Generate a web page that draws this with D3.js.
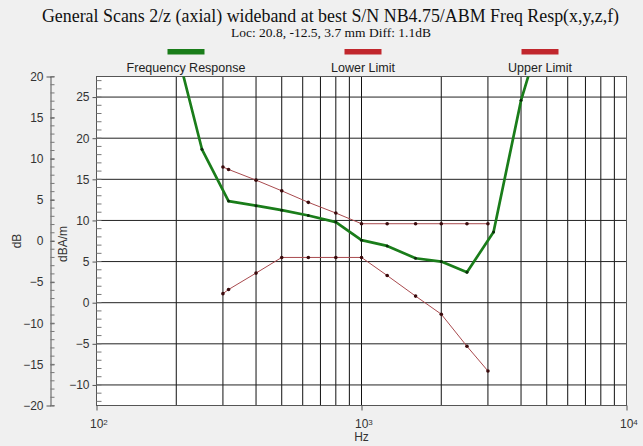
<!DOCTYPE html>
<html>
<head>
<meta charset="utf-8">
<script src="https://cdn.jsdelivr.net/npm/d3@7"></script>
<style>
  html, body { margin: 0; padding: 0; background: #f0f0f0; }
  svg { display: block; }
</style>
</head>
<body>
<svg id="chart" width="643" height="446"></svg>
<script>
// ---- data ----
const titleText = "General Scans 2/z (axial) wideband at best S/N NB4.75/ABM Freq Resp(x,y,z,f)";
const subtitleText = "Loc: 20.8, -12.5, 3.7 mm Diff: 1.1dB";
const seriesNames = ["Frequency Response", "Lower Limit", "Upper Limit"];

const respFreq = [200, 250, 315, 400, 500, 630, 800, 1000, 1250, 1600, 2000, 2500, 3150, 4000, 5000];
const respValues = [31, 18.65, 12.35, 11.8, 11.25, 10.6, 9.8, 7.6, 6.9, 5.4, 5.0, 3.7, 8.6, 24.6, 35];

const limitFreq = [300, 315, 400, 500, 630, 800, 1000, 1250, 1600, 2000, 2500, 3000];
const lowerValues = [1.1, 1.6, 3.6, 5.5, 5.5, 5.5, 5.5, 3.3, 0.8, -1.4, -5.3, -8.3];
const upperValues = [16.5, 16.2, 14.9, 13.6, 12.2, 10.9, 9.6, 9.6, 9.6, 9.6, 9.6, 9.6];

const xTickValues = [100, 1000, 10000];
const dbTicks = [-20, -15, -10, -5, 0, 5, 10, 15, 20];
const dbaTicks = [-10, -5, 0, 5, 10, 15, 20, 25];

// ---- layout ----
const svg = d3.select("#chart");
const L = 96.5, R = 626.5, T = 76.5, B = 405.5;

const x = d3.scaleLog().domain([100, 10000]).range([L, R]);
const yIn = d3.scaleLinear().domain([-12.5, 27.5]).range([B, T]);
const yDb = d3.scaleLinear().domain([-20, 20]).range([B, T]);

const green = "#1a7d1a";
const red = "#c1272d";
const limitLine = "#a84a4e";

// title
svg.append("text").attr("x", 330.5).attr("y", 22)
  .attr("text-anchor", "middle")
  .style("font-family", "'Liberation Serif', 'Times New Roman', serif")
  .style("font-size", "17.9px").attr("fill", "#111").text(titleText);
svg.append("text").attr("x", 331).attr("y", 36.5)
  .attr("text-anchor", "middle")
  .style("font-family", "'Liberation Serif', 'Times New Roman', serif")
  .style("font-size", "13.5px").attr("fill", "#111").text(subtitleText);

// legend
const legendColors = [green, red, red];
const legend = svg.append("g");
seriesNames.forEach((name, i) => {
  const cx = 186 + i * 177;
  legend.append("rect").attr("x", cx - 18.5).attr("y", 49).attr("width", 37).attr("height", 5.5)
    .attr("fill", legendColors[i]);
  legend.append("text").attr("x", cx).attr("y", 72).attr("text-anchor", "middle")
    .style("font-family", "'Liberation Sans', Arial, sans-serif").style("font-size", "12.5px")
    .attr("fill", "#222").text(name);
});

// plot area
svg.append("rect").attr("x", L).attr("y", T).attr("width", R - L).attr("height", B - T)
  .attr("fill", "#fff");

// gridlines
const grid = svg.append("g");
grid.selectAll("line.v").data(x.ticks()).join("line")
  .attr("x1", d => x(d)).attr("x2", d => x(d)).attr("y1", T).attr("y2", B)
  .attr("stroke", "#111").attr("stroke-width", 1);
grid.selectAll("line.h").data(dbaTicks).join("line")
  .attr("x1", L).attr("x2", R).attr("y1", d => yIn(d)).attr("y2", d => yIn(d))
  .attr("stroke", "#222").attr("stroke-width", 1);

// border
svg.append("rect").attr("x", L).attr("y", T).attr("width", R - L).attr("height", B - T)
  .attr("fill", "none").attr("stroke", "#555").attr("stroke-width", 1);

// clip
svg.append("clipPath").attr("id", "clip").append("rect")
  .attr("x", L).attr("y", T).attr("width", R - L).attr("height", B - T);
const plot = svg.append("g").attr("clip-path", "url(#clip)");

const line = d3.line().x(d => x(d[0])).y(d => yIn(d[1]));
const upper = limitFreq.map((f, i) => [f, upperValues[i]]);
const lower = limitFreq.map((f, i) => [f, lowerValues[i]]);
const resp = respFreq.map((f, i) => [f, respValues[i]]);

[upper, lower].forEach(data => {
  plot.append("path").datum(data).attr("d", line).attr("fill", "none")
    .attr("stroke", limitLine).attr("stroke-width", 1);
  plot.selectAll(null).data(data).join("circle")
    .attr("cx", d => x(d[0])).attr("cy", d => yIn(d[1])).attr("r", 1.8)
    .attr("fill", "#3a0a0c");
});
plot.append("path").datum(resp).attr("d", line).attr("fill", "none")
  .attr("stroke", green).attr("stroke-width", 2.7).attr("stroke-linejoin", "round");
plot.selectAll(null).data(resp).join("circle")
  .attr("cx", d => x(d[0])).attr("cy", d => yIn(d[1])).attr("r", 1.5)
  .attr("fill", "#0a2a0a");

const tickFont = g => g.selectAll("text")
  .style("font-family", "'Liberation Sans', Arial, sans-serif").style("font-size", "12px")
  .attr("fill", "#333");

// inner axis (dBA/m)
const inAx = svg.append("g").attr("transform", `translate(${L},0)`);
inAx.call(d3.axisLeft(yIn).tickValues(dbaTicks).tickSize(4).tickPadding(3))
  .call(g => g.select(".domain").remove())
  .call(g => g.selectAll("line").attr("stroke", "#555"))
  .call(tickFont);
inAx.selectAll("line.minor").data(d3.range(-12, 28, 1)).join("line")
  .attr("x1", 0).attr("x2", 5).attr("y1", d => yIn(d)).attr("y2", d => yIn(d))
  .attr("stroke", "#777");

// outer axis (dB)
const dbAx = svg.append("g").attr("transform", "translate(50.5,0)");
dbAx.call(d3.axisLeft(yDb).tickValues(dbTicks).tickSize(4).tickPadding(3))
  .call(g => g.select(".domain").attr("stroke", "#555"))
  .call(g => g.selectAll(".tick line").attr("stroke", "#555").attr("x2", 4))
  .call(tickFont);
dbAx.selectAll("line.minor").data(d3.range(-20, 21, 1)).join("line")
  .attr("x1", 0).attr("x2", 4).attr("y1", d => yDb(d)).attr("y2", d => yDb(d))
  .attr("stroke", "#777");

// x axis
const xAx = svg.append("g").attr("transform", `translate(0,${B})`);
xAx.call(d3.axisBottom(x).tickValues(xTickValues).tickSize(5).tickPadding(4).tickFormat(""))
  .call(g => g.select(".domain").remove())
  .call(g => g.selectAll("line").attr("stroke", "#555"));
xAx.selectAll(".tick text").each(function(d) {
  const t = d3.select(this);
  t.attr("text-anchor", "start").attr("x", -7).attr("dy", "1.1em")
    .style("font-family", "'Liberation Sans', Arial, sans-serif").style("font-size", "12px")
    .attr("fill", "#333");
  t.append("tspan").text("10");
  t.append("tspan").attr("dy", "-0.4em").style("font-size", "8px").text(Math.round(Math.log10(d)));
});

// axis titles
const axisFont = sel => sel.style("font-family", "'Liberation Sans', Arial, sans-serif")
  .style("font-size", "12px").attr("fill", "#333").attr("text-anchor", "middle");
svg.append("text").attr("transform", "translate(21,241) rotate(-90)").call(axisFont).text("dB");
svg.append("text").attr("transform", "translate(67,244) rotate(-90)").call(axisFont).text("dBA/m");
svg.append("text").attr("x", x(1000)).attr("y", 441).call(axisFont).text("Hz");
</script>
</body>
</html>
